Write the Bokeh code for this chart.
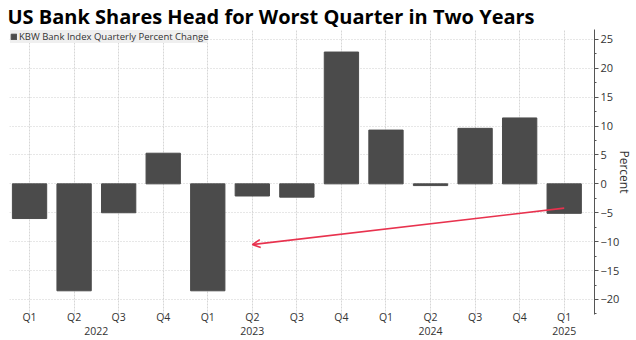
from bokeh.plotting import figure
from bokeh.models import (ColumnDataSource, FixedTicker, Range1d, Legend,
                          LegendItem, Arrow, OpenHead)
from bokeh.embed import file_html
from bokeh.resources import INLINE

quarters = ["Q1", "Q2", "Q3", "Q4", "Q1", "Q2", "Q3", "Q4", "Q1", "Q2", "Q3", "Q4", "Q1"]
years = ["2022", "2022", "2022", "2022", "2023", "2023", "2023", "2023",
         "2024", "2024", "2024", "2024", "2025"]
pct_change = [-6.0, -18.5, -5.0, 5.3, -18.5, -2.1, -2.3, 22.8, 9.3, -0.3, 9.6, 11.4, -5.1]
year_label_pos = [1.5, 5, 9, 12]
year_labels = ["2022", "2023", "2024", "2025"]
y_ticks = [-20, -15, -10, -5, 0, 5, 10, 15, 20, 25]
arrow_start = (12.0, -4.2)
arrow_end = (5.0, -10.5)

idx = list(range(len(pct_change)))
src = ColumnDataSource(dict(x=idx, top=pct_change, q=quarters, yr=years))

FONT = "Open Sans"
Y0, Y1 = -22.6, 26.7
p = figure(width=636, height=340, output_backend="svg", toolbar_location=None,
           x_range=Range1d(-0.45, 12.68), y_range=Range1d(Y0, Y1),
           y_axis_location="right",
           min_border_left=9, min_border_right=30, min_border_top=0, min_border_bottom=0)
p.title.text = "US Bank Shares Head for Worst Quarter in Two Years"
p.title.text_font = FONT
p.title.text_font_size = "20px"
p.title.text_font_style = "bold"
p.title.text_color = "#000000"
p.title.offset = -2
p.title.standoff = 0
p.outline_line_color = None
p.background_fill_color = "white"
p.border_fill_color = "white"

r = p.vbar(x="x", top="top", bottom=0, width=0.77, source=src,
           fill_color="#4b4b4b", line_color="#4b4b4b")

# x axis: quarter labels, with the year on a second line
labels = {i: q for i, q in zip(idx, quarters)}
for pos, yl in zip(year_label_pos, year_labels):
    first = labels.get(pos, "")
    labels[pos] = first + "\n" + yl
xa = p.xaxis[0]
xa.ticker = FixedTicker(ticks=sorted(labels.keys()))
xa.major_label_overrides = labels
xa.axis_line_color = None
xa.major_tick_line_color = None
xa.minor_tick_line_color = None
xa.major_tick_in = 0
xa.major_tick_out = 0
xa.minor_tick_in = 0
xa.minor_tick_out = 0
xa.major_label_text_font = FONT
xa.major_label_text_font_size = "10.5px"
xa.major_label_text_color = "#333333"
xa.major_label_text_line_height = 1.0
xa.major_label_standoff = -5

# y axis right
yax = p.yaxis[0]
yax.ticker = FixedTicker(ticks=y_ticks, minor_ticks=[v + 2.5 for v in y_ticks] + [-22.5])
yax.axis_line_color = "#555555"
yax.major_tick_line_color = "#555555"
yax.minor_tick_line_color = "#555555"
yax.major_tick_in = 0
yax.major_tick_out = 4
yax.minor_tick_in = 0
yax.minor_tick_out = 2
yax.major_label_text_font = FONT
yax.major_label_text_font_size = "11px"
yax.major_label_text_color = "#333333"
yax.major_label_standoff = 2
yax.axis_label = "Percent"
yax.axis_label_text_font = FONT
yax.axis_label_text_font_size = "12px"
yax.axis_label_text_font_style = "normal"
yax.axis_label_text_color = "#333333"
yax.axis_label_standoff = -6

p.xgrid.ticker = FixedTicker(ticks=idx)
p.xgrid.grid_line_color = "#d6d6d6"
p.xgrid.grid_line_dash = "2 1"
p.ygrid.ticker = FixedTicker(ticks=y_ticks)
p.ygrid.grid_line_color = "#cfcfcf"
p.ygrid.grid_line_dash = "1 2"

legend = Legend(items=[LegendItem(label="KBW Bank Index Quarterly Percent Change", renderers=[r])],
                location="top_left", orientation="horizontal")
legend.background_fill_color = "#efefef"
legend.background_fill_alpha = 1.0
legend.border_line_color = None
legend.margin = 1
legend.padding = 3
legend.label_text_font = FONT
legend.label_text_font_size = "9.5px"
legend.label_text_color = "#333333"
legend.glyph_width = 7
legend.glyph_height = 7
legend.label_standoff = 2
legend.label_height = 13
p.add_layout(legend, "center")

arrow = Arrow(x_start=arrow_start[0], y_start=arrow_start[1],
              x_end=arrow_end[0], y_end=arrow_end[1],
              line_color="#e8324e", line_width=1.6,
              end=OpenHead(size=8, line_color="#e8324e", line_width=1.6))
p.add_layout(arrow)

open("out.html", "w").write(file_html(p, INLINE))
